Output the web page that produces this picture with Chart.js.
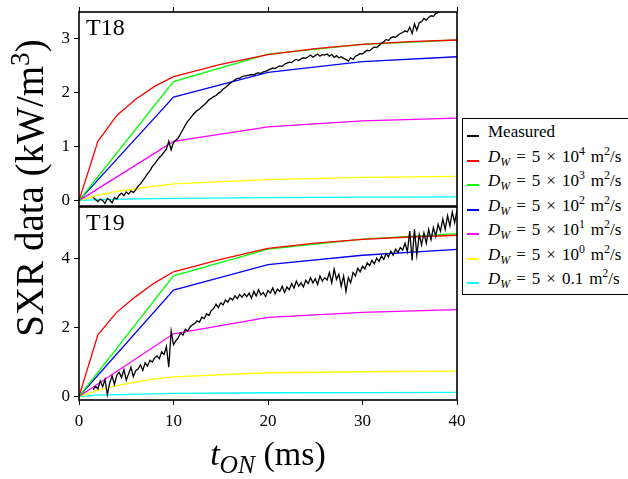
<!DOCTYPE html>
<html>
<head>
<meta charset="utf-8">
<script src="https://cdn.jsdelivr.net/npm/chart.js@4/dist/chart.umd.min.js"></script>
<style>
  body { margin: 0; background: #fff; }
  #wrap { position: relative; width: 628px; height: 479px; overflow: hidden; background: #fff;
          font-family: "Liberation Serif", "DejaVu Serif", serif; color: #000; }
  canvas { position: absolute; left: 0; }
  #ytitle { position: absolute; left: -170px; top: 168px; width: 400px; height: 40px; line-height: 40px;
            font-size: 39px; text-align: center; transform: rotate(-90deg); transform-origin: 50% 50%; white-space: nowrap; }
  #xtitle { position: absolute; left: 0; top: 436px; width: 536px; line-height: 36px; font-size: 34px;
            text-align: center; white-space: nowrap; }
  sup, sub { line-height: 0; }
  #ytitle sup { font-size: 0.7em; }
  #xtitle sub { font-size: 0.75em; }
  #legend { position: absolute; left: 462px; top: 118px; width: 175px; height: 177px; box-sizing: border-box;
            border: 1px solid #000; background: #fff; }
  .row { position: absolute; left: 0; height: 20px; line-height: 20px; font-size: 17px; white-space: nowrap; }
  .mark { position: absolute; left: 4px; top: 13px; width: 12px; height: 2px; }
  .txt { position: absolute; left: 25px; top: 0; }
  .txt sup { font-size: 0.7em; }
  .txt sub { font-size: 0.7em; }
  .op { padding: 0 6px; }
  .gap { padding-left: 6px; }
</style>
</head>
<body>
<div id="wrap">
  <canvas id="c18" width="470" height="212" style="top:0px"></canvas>
  <canvas id="c19" width="470" height="279" style="top:200px"></canvas>
  <div id="ytitle">SXR data (kW/m<sup>3</sup>)</div>
  <div id="xtitle"><i>t</i><sub><i>ON</i></sub> (ms)</div>
  <div id="legend"></div>
</div>
<script>
// ---- axis ticks ----
const xTicks = [0, 10, 20, 30, 40];
const yTicksT18 = [0, 1, 2, 3];
const yTicksT19 = [0, 2, 4];

// ---- series names ----
const seriesNames = [
  'Measured',
  'D_W = 5 × 10^4 m^2/s',
  'D_W = 5 × 10^3 m^2/s',
  'D_W = 5 × 10^2 m^2/s',
  'D_W = 5 × 10^1 m^2/s',
  'D_W = 5 × 10^0 m^2/s',
  'D_W = 5 × 0.1 m^2/s'
];

// ---- measured signal, sampled every 0.25 ms starting at 1.5 ms ----
const measuredStart = 1.5;
const measuredStep = 0.25;
const measuredT18 = [
  0.06, 0.02, -0.02, 0.03, 0.00, -0.05, 0.04, 0.01, -0.04, 0.06, 0.03,
  0.10, 0.14, 0.09, 0.16, 0.12, 0.18, 0.15, 0.20,
  0.27, 0.31, 0.37, 0.43, 0.50, 0.55, 0.63, 0.68,
  0.74, 0.80, 0.84, 0.90, 0.96, 1.10, 0.94, 1.08,
  1.12, 1.16, 1.24, 1.32, 1.40, 1.47, 1.52, 1.58,
  1.63, 1.67, 1.70, 1.74, 1.78, 1.82, 1.87, 1.90,
  1.93, 1.95, 1.99, 2.02, 2.07, 2.10, 2.14, 2.18,
  2.21, 2.24, 2.27, 2.27, 2.30, 2.31, 2.32, 2.33,
  2.34, 2.33, 2.36, 2.37, 2.36, 2.39, 2.40, 2.42,
  2.44, 2.46, 2.45, 2.48, 2.50, 2.49, 2.53, 2.55,
  2.57, 2.56, 2.60, 2.62, 2.60, 2.63, 2.65, 2.64,
  2.67, 2.70, 2.66, 2.69, 2.72, 2.68, 2.71, 2.70,
  2.72, 2.68, 2.71, 2.66, 2.69, 2.65, 2.67, 2.64,
  2.62, 2.59, 2.65, 2.62, 2.68, 2.70, 2.73, 2.72,
  2.76, 2.79, 2.78, 2.82, 2.85, 2.84, 2.88, 2.92,
  2.95, 2.99, 2.97, 3.02, 3.04, 3.03, 3.07, 3.10,
  3.12, 3.15, 3.13, 3.22, 3.10, 3.28, 3.16, 3.30,
  3.32, 3.38, 3.35, 3.40, 3.43, 3.42, 3.47, 3.49,
  3.52, 3.55, 3.54, 3.58, 3.60, 3.62, 3.64, 3.66
];
const measuredT19 = [
  0.20, 0.30, 0.22, 0.45, 0.28, 0.50, 0.05, 0.40, 0.60, 0.35, 0.62,
  0.70, 0.55, 0.78, 0.48, 0.66, 0.85, 0.58, 0.75,
  0.80, 0.92, 0.76, 0.98, 0.88, 1.05, 1.00, 1.12,
  1.18, 1.10, 1.30, 1.22, 1.45, 0.85, 1.90, 1.50,
  1.62, 1.70, 1.85, 1.78, 1.95, 1.90, 2.02, 2.08,
  2.12, 2.20, 2.16, 2.30, 2.26, 2.40, 2.35, 2.50,
  2.55, 2.68, 2.58, 2.72, 2.66, 2.80, 2.74, 2.86,
  2.80, 2.92, 2.84, 2.96, 2.88, 2.98, 2.90, 3.00,
  2.85, 3.05, 2.92, 3.10, 2.95, 3.02, 2.90, 3.08,
  3.00, 3.15, 2.98, 3.12, 3.05, 3.20, 3.02, 3.18,
  3.10, 3.28, 3.15, 3.35, 3.20, 3.30, 3.18, 3.38,
  3.28, 3.45, 3.30, 3.42, 3.25, 3.50, 3.35, 3.45,
  3.38, 3.60, 3.30, 3.70, 3.40, 3.55, 3.20, 3.50,
  3.05, 3.45, 3.30, 3.60, 3.50, 3.72, 3.62, 3.78,
  3.70, 3.88, 3.80, 3.95, 3.85, 4.02, 3.92, 4.08,
  3.98, 4.15, 4.05, 4.22, 4.10, 4.28, 4.18, 4.32,
  4.25, 4.45, 4.20, 4.80, 3.95, 4.85, 4.10, 4.70,
  4.40, 4.75, 4.45, 4.85, 4.55, 4.90, 4.65, 5.00,
  4.80, 5.15, 4.85, 5.25, 4.95, 5.35, 5.05, 5.40
];

// ---- simulated signals (time in ms) ----
const timesFast  = [0, 2, 4, 6, 8, 10, 15, 20, 25, 30, 35, 40];
const timesCoarse = [0, 10, 20, 30, 40];
const timesSlow  = [0, 2, 4, 6, 8, 10, 20, 30, 40];
const timesFlat  = [0, 2, 10, 20, 30, 40];

const dw4T18 = [0, 1.10, 1.58, 1.88, 2.12, 2.30, 2.53, 2.71, 2.82, 2.90, 2.95, 2.98];
const dw3T18 = [0, 2.21, 2.72, 2.90, 2.98];
const dw2T18 = [0, 1.92, 2.38, 2.58, 2.67];
const dw1T18 = [0, 1.10, 1.37, 1.48, 1.53];
const dw0T18 = [0, 0.10, 0.17, 0.22, 0.27, 0.31, 0.39, 0.43, 0.45];
const dwm1T18 = [0, 0.02, 0.04, 0.055, 0.065, 0.07];

const dw4T19 = [0, 1.79, 2.45, 2.90, 3.30, 3.62, 3.98, 4.30, 4.45, 4.56, 4.63, 4.68];
const dw3T19 = [0, 3.50, 4.28, 4.57, 4.73];
const dw2T19 = [0, 3.09, 3.83, 4.10, 4.27];
const dw1T19 = [0, 1.82, 2.30, 2.44, 2.52];
const dw0T19 = [0, 0.18, 0.32, 0.42, 0.51, 0.57, 0.69, 0.72, 0.74];
const dwm1T19 = [0, 0.04, 0.09, 0.11, 0.115, 0.12];

// ---- styling ----
const FONT = '"Liberation Serif", "DejaVu Serif", serif';
const seriesColors = ['#000000', '#ff0000', '#00ff00', '#0000ff', '#ff00ff', '#ffff00', '#00ffff'];

function pts(ts, vs) { return vs.map((v, i) => ({ x: ts[i], y: v })); }
function sampled(vs) { return vs.map((v, i) => ({ x: measuredStart + i * measuredStep, y: v })); }

function buildDatasets(measured, models) {
  const sets = [measured].concat(models);
  return sets.map((d, i) => ({
    label: seriesNames[i],
    data: d,
    borderColor: seriesColors[i],
    backgroundColor: seriesColors[i],
    borderWidth: 1.3,
    pointRadius: 0,
    tension: 0,
    fill: false
  }));
}

// frame around the plotting area plus the panel tag
const framePlugin = {
  id: 'frame',
  afterDatasetsDraw(chart, args, opts) {
    const { ctx, chartArea: a } = chart;
    ctx.save();
    ctx.strokeStyle = '#000';
    ctx.lineWidth = 1.6;
    ctx.strokeRect(a.left, a.top, a.right - a.left, a.bottom - a.top);
    ctx.fillStyle = '#000';
    ctx.font = '24px ' + FONT;
    ctx.textBaseline = 'alphabetic';
    ctx.fillText(opts.tag, a.left + 7, a.top + 23);
    ctx.restore();
  }
};

function makeChart(id, tag, datasets, yMin, yMax, yTicks, isBottom, padding) {
  return new Chart(document.getElementById(id), {
    type: 'line',
    data: { datasets },
    plugins: [framePlugin],
    options: {
      responsive: false,
      animation: false,
      devicePixelRatio: 1,
      layout: { padding },
      plugins: { legend: { display: false }, tooltip: { enabled: false }, frame: { tag } },
      scales: {
        x: {
          type: 'linear', min: 0, max: 40,
          position: isBottom ? 'bottom' : 'top',
          afterBuildTicks: s => { s.ticks = xTicks.map(v => ({ value: v })); },
          afterFit: s => { s.height = isBottom ? 79 : 12; s.paddingLeft = 0; s.paddingRight = 0; },
          grid: { drawOnChartArea: false, drawTicks: true, tickLength: 5, color: '#000', lineWidth: 1 },
          border: { display: false },
          ticks: { display: isBottom, color: '#000', font: { family: FONT, size: 17 }, padding: 6, maxRotation: 0 }
        },
        y: {
          type: 'linear', min: yMin, max: yMax,
          afterBuildTicks: s => { s.ticks = yTicks.map(v => ({ value: v })); },
          afterFit: s => { s.width = 79; s.paddingTop = 0; s.paddingBottom = 0; },
          grid: { drawOnChartArea: false, drawTicks: true, tickLength: 5, color: '#000', lineWidth: 1 },
          border: { display: false },
          ticks: { color: '#000', font: { family: FONT, size: 17 }, padding: 4 }
        }
      }
    }
  });
}

makeChart('c18', 'T18',
  buildDatasets(sampled(measuredT18), [
    pts(timesFast, dw4T18), pts(timesCoarse, dw3T18), pts(timesCoarse, dw2T18),
    pts(timesCoarse, dw1T18), pts(timesSlow, dw0T18), pts(timesFlat, dwm1T18)
  ]),
  -0.1, 3.5, yTicksT18, false, { left: 0, right: 13, top: 0, bottom: 6 });

makeChart('c19', 'T19',
  buildDatasets(sampled(measuredT19), [
    pts(timesFast, dw4T19), pts(timesCoarse, dw3T19), pts(timesCoarse, dw2T19),
    pts(timesCoarse, dw1T19), pts(timesSlow, dw0T19), pts(timesFlat, dwm1T19)
  ]),
  -0.1, 5.5, yTicksT19, true, { left: 0, right: 13, top: 7, bottom: 0 });

// legend rows
function toHtml(s) {
  return s.replace('D_W', '<i>D</i><sub><i>W</i></sub>')
          .replace(/ ([=×]) /g, '<span class="op">$1</span>')
          .replace(/ m\^/, '<span class="gap"></span>m^')
          .replace(/\^(\d+)/g, '<sup>$1</sup>');
}
const legend = document.getElementById('legend');
seriesNames.forEach((name, i) => {
  const row = document.createElement('div');
  row.className = 'row';
  row.style.top = (3 + i * 24.5) + 'px';
  row.innerHTML = '<span class="mark" style="background:' + seriesColors[i] + '"></span>' +
                  '<span class="txt">' + toHtml(name) + '</span>';
  legend.appendChild(row);
});
</script>
</body>
</html>
